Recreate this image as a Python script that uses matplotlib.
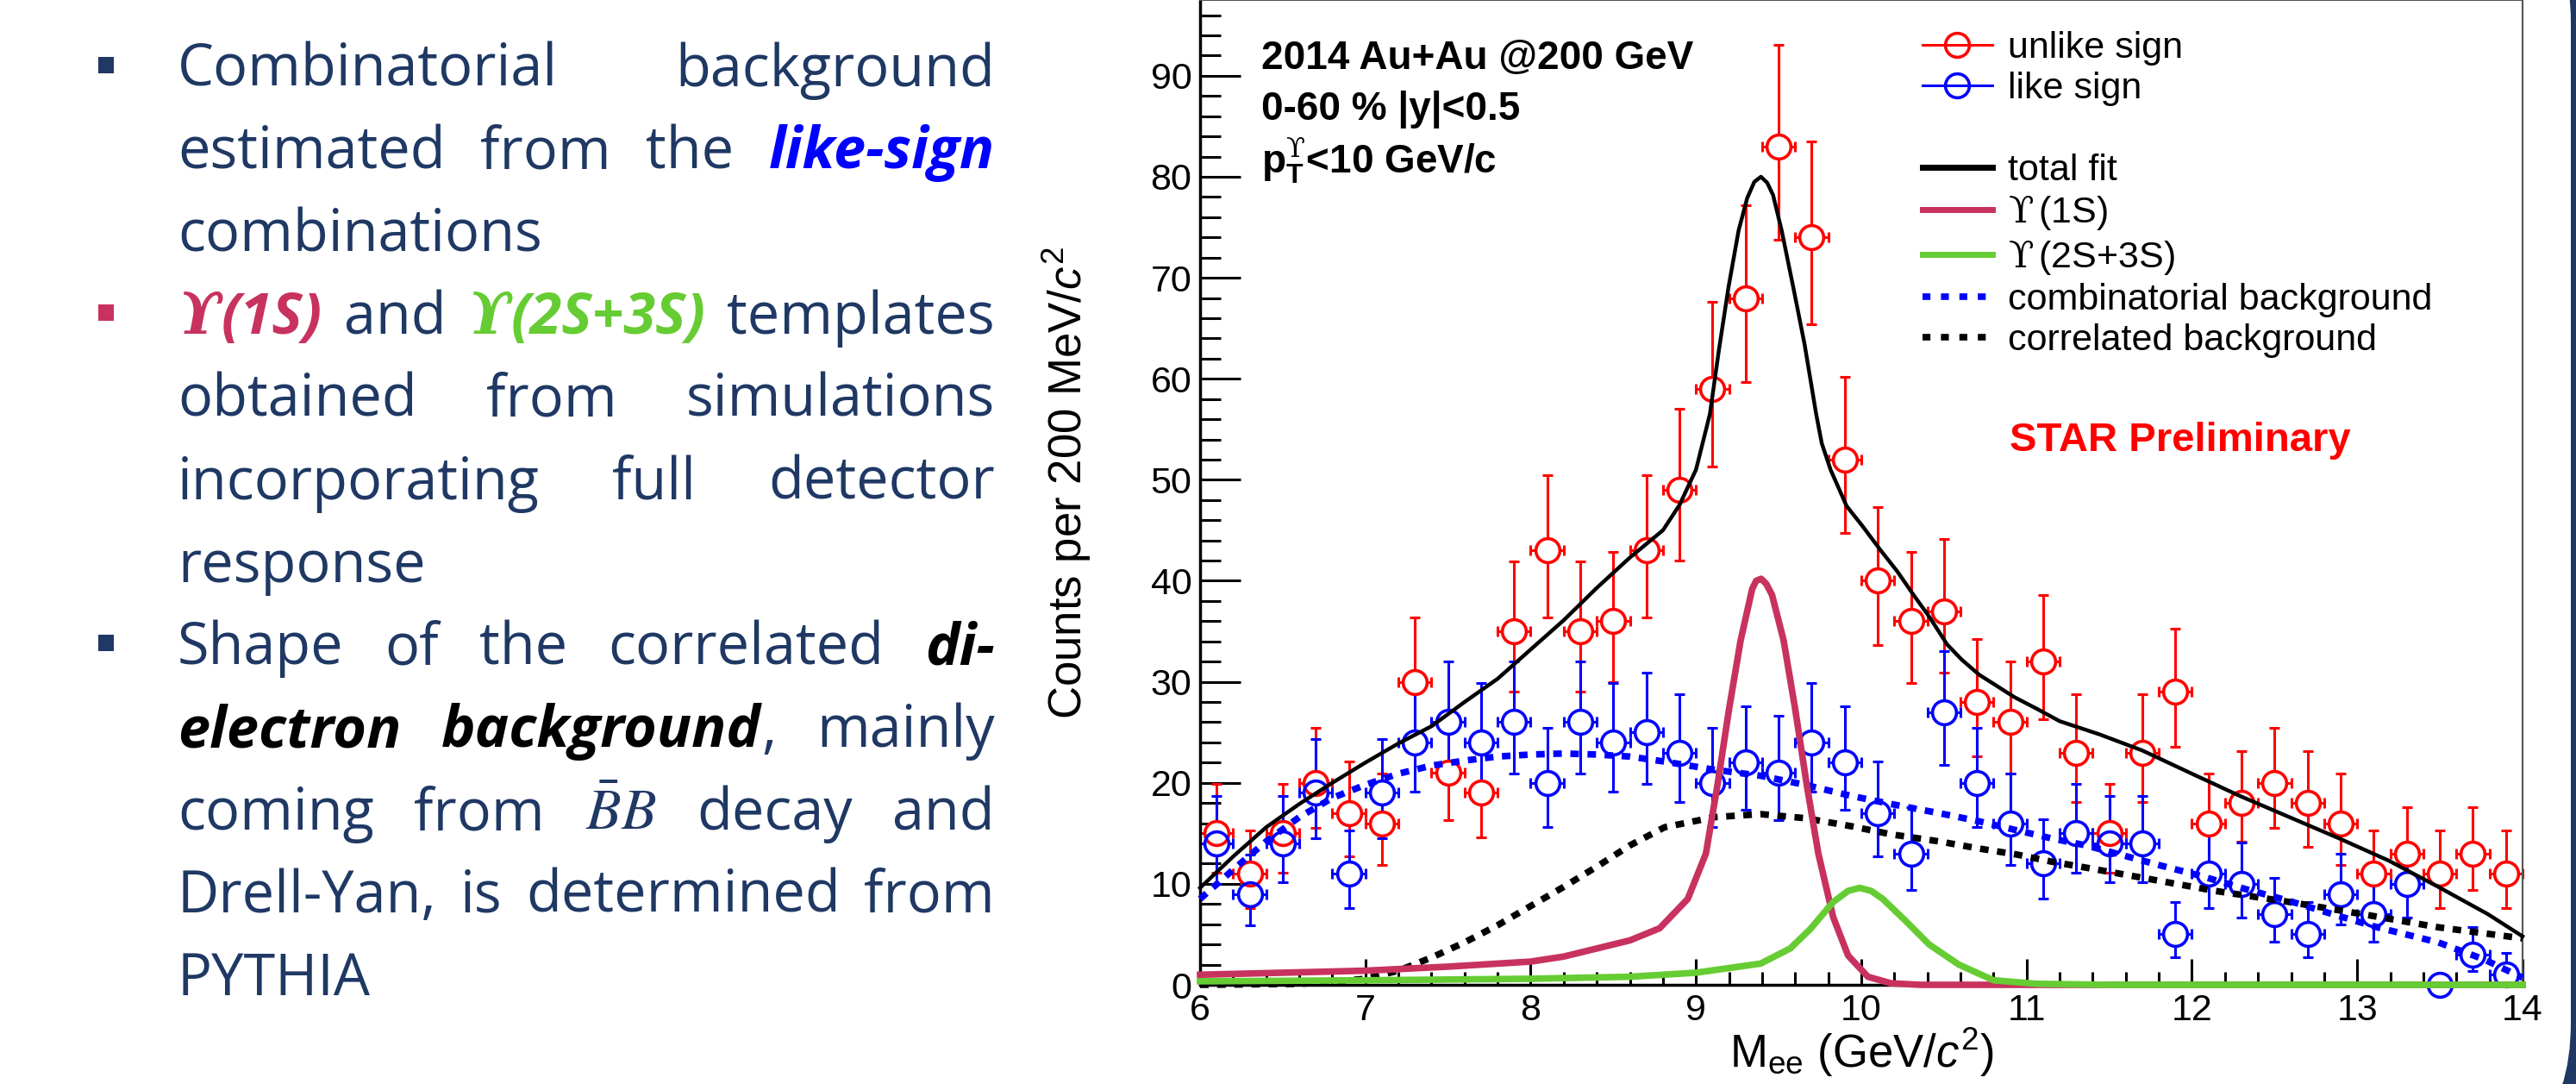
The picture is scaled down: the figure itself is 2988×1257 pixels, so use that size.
import numpy as np
import matplotlib
matplotlib.use('Agg')
import matplotlib.pyplot as plt
from matplotlib.lines import Line2D
from matplotlib.patches import Rectangle, FancyBboxPatch
from matplotlib.transforms import IdentityTransform

plt.rcParams['font.family'] = ['Liberation Sans', 'DejaVu Sans']
plt.rcParams['mathtext.fontset'] = 'custom'
plt.rcParams['mathtext.rm'] = 'DejaVu Serif'
plt.rcParams['mathtext.it'] = 'Liberation Sans:italic'
plt.rcParams['mathtext.bf'] = 'Liberation Sans:bold'
plt.rcParams['mathtext.sf'] = 'Liberation Sans'

# ---- data ----
mass = [6.1, 6.3, 6.5, 6.7, 6.9, 7.1, 7.3, 7.5, 7.7, 7.9,
        8.1, 8.3, 8.5, 8.7, 8.9, 9.1, 9.3, 9.5, 9.7, 9.9,
        10.1, 10.3, 10.5, 10.7, 10.9, 11.1, 11.3, 11.5, 11.7, 11.9,
        12.1, 12.3, 12.5, 12.7, 12.9, 13.1, 13.3, 13.5, 13.7, 13.9]

unlike = [15, 11, 15, 20, 17, 16, 30, 21, 19, 35,
          43, 35, 36, 43, 49, 59, 68, 83, 74, 52,
          40, 36, 37, 28, 26, 32, 23, 15, 23, 29,
          16, 18, 20, 18, 16, 11, 13, 11, 13, 11]
unlike_lo = [11.1, 7.6, 11.1, 15.5, 12.7, 11.9, 24.8, 16.3, 14.6, 29.0,
             36.4, 29.0, 30.0, 36.4, 42.0, 51.3, 59.7, 73.8, 65.4, 44.7,
             33.6, 29.9, 30.9, 22.6, 20.9, 26.3, 18.1, 11.1, 18.1, 23.6,
             11.9, 14.2, 15.5, 13.7, 11.9, 7.6, 9.4, 7.6, 9.4, 7.6]
unlike_hi = [19.9, 15.3, 19.9, 25.4, 22.1, 20.9, 36.4, 26.8, 24.3, 41.9,
             50.5, 41.9, 42.9, 50.5, 57.0, 67.6, 77.2, 93.1, 83.5, 60.2,
             47.3, 42.9, 44.1, 34.2, 32.0, 38.6, 28.8, 19.9, 28.8, 35.3,
             20.9, 23.1, 25.4, 23.1, 20.9, 15.3, 17.6, 15.3, 17.6, 15.3]

like = [14, 9, 14, 19, 11, 19, 24, 26, 24, 26,
        20, 26, 24, 25, 23, 20, 22, 21, 24, 22,
        17, 13, 27, 20, 16, 12, 15, 14, 14, 5,
        11, 10, 7, 5, 9, 7, 10, 0, 3, 1]
like_lo = [10.0, 5.9, 10.2, 14.5, 7.6, 14.5, 19.1, 20.9, 19.1, 20.9,
           15.6, 20.9, 19.1, 19.9, 18.1, 15.6, 17.3, 16.3, 19.1, 17.3,
           12.7, 9.4, 21.8, 15.6, 11.9, 8.5, 11.1, 10.2, 10.2, 2.7,
           7.6, 6.7, 4.3, 2.7, 6.0, 4.3, 6.7, 0.0, 1.4, 0.2]
like_hi = [18.7, 12.9, 18.7, 24.3, 15.3, 24.3, 29.9, 32.0, 29.9, 32.0,
           25.4, 32.0, 29.9, 30.9, 28.8, 25.4, 27.6, 26.6, 29.9, 27.6,
           22.1, 17.6, 33.0, 25.4, 20.9, 16.4, 19.9, 18.7, 18.7, 8.2,
           15.3, 14.1, 10.6, 8.2, 13.0, 10.6, 14.1, 0.0, 5.7, 3.2]

fit_x = [6.0, 6.2, 6.4, 6.6, 6.8, 7.0, 7.2, 7.4, 7.6, 7.8, 8.0, 8.2, 8.4, 8.6,
         8.8, 8.9, 9.0, 9.084, 9.14, 9.197, 9.258, 9.31, 9.353, 9.393, 9.431, 9.466,
         9.518, 9.588, 9.657, 9.727, 9.761, 9.814, 9.911, 10.008, 10.113, 10.219,
         10.316, 10.413, 10.519, 10.607, 10.713, 10.819, 10.924, 11.065, 11.2, 11.44,
         11.7, 12.0, 12.29, 12.59, 12.89, 13.19, 13.49, 13.79, 14.0]
fit_y = [9.6, 12.7, 15.6, 17.9, 20.0, 22.0, 23.9, 25.6, 28.0, 30.3, 33.2, 36.1, 39.3, 42.3,
         45.0, 47.5, 51.0, 56.5, 63.0, 69.1, 74.7, 77.9, 79.5, 80.0, 79.4, 78.2,
         74.7, 69.1, 63.4, 56.5, 53.6, 51.0, 47.4, 45.4, 43.1, 40.9,
         38.6, 36.4, 33.7, 32.2, 30.7, 29.6, 28.5, 27.3, 26.1, 24.8,
         23.2, 20.9, 18.7, 16.6, 14.5, 12.3, 9.7, 7.0, 4.8]

y1s_x = [6.0, 6.5, 7.0, 7.5, 8.0, 8.2, 8.4, 8.6, 8.78, 8.95, 9.06, 9.13, 9.2, 9.27,
         9.34, 9.364, 9.394, 9.425, 9.46, 9.53, 9.6, 9.67, 9.74, 9.83, 9.92, 10.04,
         10.18, 10.36, 14.0]
y1s_y = [1.0, 1.2, 1.4, 1.8, 2.3, 2.8, 3.6, 4.4, 5.6, 8.5, 13.0, 19.8, 27.3, 34.1,
         39.2, 40.0, 40.2, 39.7, 38.6, 34.1, 27.3, 19.8, 13.0, 6.7, 2.9, 0.8,
         0.15, 0.0, 0.0]

y23s_x = [6.0, 7.0, 8.0, 8.6, 9.0, 9.39, 9.57, 9.69, 9.83, 9.92, 9.99, 10.06, 10.13, 10.27,
          10.41, 10.59, 10.8, 11.06, 11.5, 14.0]
y23s_y = [0.35, 0.45, 0.6, 0.8, 1.2, 2.1, 3.6, 5.5, 8.2, 9.3, 9.6, 9.3, 8.5, 6.3,
          4.0, 2.0, 0.45, 0.1, 0.0, 0.0]

comb_x = [6.0, 6.2, 6.4, 6.6, 6.8, 7.0, 7.2, 7.4, 7.6, 7.8, 8.0, 8.2, 8.4, 8.6,
          8.81, 9.11, 9.39, 9.66, 9.94, 10.18, 10.47, 10.71, 10.94, 11.15, 11.36,
          11.52, 11.79, 12.05, 12.32, 12.59, 12.85, 13.12, 13.49, 13.77, 14.0]
comb_y = [8.5, 11.4, 14.2, 16.6, 18.5, 19.8, 20.9, 21.7, 22.2, 22.6, 22.8, 22.9, 22.8, 22.6,
          22.1, 21.3, 20.7, 19.8, 18.7, 17.9, 17.0, 16.2, 15.3, 14.5, 13.8,
          13.1, 11.9, 10.8, 9.5, 8.3, 7.0, 5.7, 4.2, 2.5, 0.7]

corr_x = [6.0, 6.6, 6.8, 7.0, 7.2, 7.4, 7.6, 7.8, 8.0, 8.2, 8.4, 8.6, 8.81, 9.11,
          9.39, 9.66, 9.94, 10.18, 10.47, 10.71, 10.94, 11.15, 11.36, 11.7, 12.14,
          12.59, 13.03, 13.49, 14.0]
corr_y = [0.0, 0.1, 0.3, 0.6, 1.4, 2.7, 4.2, 5.9, 7.8, 9.7, 11.7, 13.8, 15.6, 16.6,
          16.9, 16.5, 15.7, 14.9, 14.2, 13.5, 12.9, 12.2, 11.6, 10.6, 9.3,
          8.2, 7.0, 5.7, 4.6]

legend_labels = ['unlike sign', 'like sign', '', 'total fit',
                 r'$\mathrm{ϒ}\,$(1S)', r'$\mathrm{ϒ}\,$(2S+3S)',
                 'combinatorial background', 'correlated background']
info_lines = ['2014 Au+Au @200 GeV', '0-60 % |y|<0.5',
              r'p$_{\mathbf{T}}^{\mathrm{ϒ}}$<10 GeV/c']

# left-hand slide text: each line is (bullet colour or None, justified?, words)
NAVY = '#1f3864'
CRIMSON = '#c8325f'
GREEN = '#66cc33'
text_lines = [
    (NAVY, True, [[('Combinatorial', 'n')], [('background', 'n')]]),
    (None, True, [[('estimated', 'n')], [('from', 'n')], [('the', 'n')], [('like-sign', 'lb')]]),
    (None, False, [[('combinations', 'n')]]),
    (CRIMSON, True, [[('ϒ', 'u1'), ('(1S)', 'c1')], [('and', 'n')],
                     [('ϒ', 'u2'), ('(2S+3S)', 'c2')], [('templates', 'n')]]),
    (None, True, [[('obtained', 'n')], [('from', 'n')], [('simulations', 'n')]]),
    (None, True, [[('incorporating', 'n')], [('full', 'n')], [('detector', 'n')]]),
    (None, False, [[('response', 'n')]]),
    (NAVY, True, [[('Shape', 'n')], [('of', 'n')], [('the', 'n')], [('correlated', 'n')],
                  [('di-', 'k')]]),
    (None, True, [[('electron', 'k')], [('background', 'k'), (',', 'n')], [('mainly', 'n')]]),
    (None, True, [[('coming', 'n')], [('from', 'n')], [(r'$\bar{B}B$', 'bb')],
                  [('decay', 'n')], [('and', 'n')]]),
    (None, True, [[('Drell-Yan,', 'n')], [('is', 'n')], [('determined', 'n')], [('from', 'n')]]),
    (None, False, [[('PYTHIA', 'n')]]),
]

# ---- figure ----
W, H = 2988, 1257
fig = plt.figure(figsize=(W / 100, H / 100), dpi=100)
fig.patch.set_facecolor('white')

# slide border on the right with rounded inner corner
fig.add_artist(Rectangle((2900, 0), 88, H, transform=IdentityTransform(),
                         facecolor='#1f3864', edgecolor='none', zorder=-2))
fig.add_artist(FancyBboxPatch((2400, -99), 582, 1500, boxstyle='round,pad=0,rounding_size=170',
                              transform=IdentityTransform(), facecolor='white',
                              edgecolor='none', zorder=-1))

ax = fig.add_axes([1392 / W, (H - 1142) / H, (2926 - 1392) / W, 1142 / H])

mass = np.array(mass)
MS = 20


def draw_points(y, lo, hi, color):
    y = np.array(y, dtype=float)
    lo = np.array(lo)
    hi = np.array(hi)
    ok = y > 0
    ax.errorbar(mass[ok], y[ok], xerr=0.1, yerr=[y[ok] - lo[ok], hi[ok] - y[ok]],
                fmt='none', ecolor=color, elinewidth=2.2, capsize=4.3, capthick=2.2,
                zorder=2, clip_on=False)
    ax.plot(mass, y, 'o', ms=MS, mfc='white', mec='none', zorder=3, clip_on=False)
    ax.plot(mass, y, 'o', ms=MS, mfc='none', mec=color, mew=2.6, zorder=4, clip_on=False)


draw_points(unlike, unlike_lo, unlike_hi, 'red')
draw_points(like, like_lo, like_hi, 'blue')

dots = (0, (1.3, 1.3))
ax.plot(corr_x, corr_y, color='black', lw=5.5, ls=dots, zorder=5, clip_on=False)
ax.plot(comb_x, comb_y, color='blue', lw=5.5, ls=dots, zorder=5, clip_on=False)
ax.plot(y1s_x, y1s_y, color=CRIMSON, lw=5.5, zorder=5, clip_on=False)
ax.plot(y23s_x, y23s_y, color=GREEN, lw=5.5, zorder=5, clip_on=False)
ax.plot(fit_x, fit_y, color='black', lw=3.2, zorder=6, clip_on=False)

ax.set_xlim(6, 14)
ax.set_ylim(0, 97.5)
ax.set_xticks(np.arange(6, 15, 1))
ax.set_xticks(np.arange(6, 14.01, 0.2), minor=True)
ax.set_yticks(np.arange(0, 91, 10))
ax.set_yticks(np.arange(0, 97, 2), minor=True)
ax.tick_params(which='both', direction='in', top=False, right=False,
               labelsize=31, pad=7, width=2.2, colors='black')
ax.tick_params(axis='y', which='major', length=34)
ax.tick_params(axis='y', which='minor', length=17)
ax.tick_params(axis='x', which='major', length=21.5)
ax.tick_params(axis='x', which='minor', length=11)
for s in ['left', 'bottom']:
    ax.spines[s].set_linewidth(2.5)
for s in ['top', 'right']:
    ax.spines[s].set_linewidth(1.5)
    ax.spines[s].set_color('#555555')

fig.text(1237 / W, 1 - 560 / H, r'Counts per 200 MeV/$c^{\mathsf{2}}$', rotation=90,
         ha='center', va='center', fontsize=38)
fig.text(2159 / W, 1 - 1238 / H, r'M$_{\mathsf{ee}}$ (GeV/$c^{\mathsf{2}}$)',
         ha='center', va='baseline', fontsize=38)

for txt, yb in zip(info_lines, [0.9303, 0.8783, 0.824]):
    ax.text(0.0463, yb, txt, transform=ax.transAxes, fontsize=33, fontweight='bold',
            va='baseline', ha='left')
ax.text(0.612, 0.542, 'STAR Preliminary', transform=ax.transAxes, fontsize=34,
        fontweight='bold', color='red', va='baseline', ha='left')

handles = [
    Line2D([], [], color='red', lw=2.2, marker='o', ms=MS, mfc='none', mew=2.6),
    Line2D([], [], color='blue', lw=2.2, marker='o', ms=MS, mfc='none', mew=2.6),
    Line2D([], [], ls='none'),
    Line2D([], [], color='black', lw=5),
    Line2D([], [], color=CRIMSON, lw=5),
    Line2D([], [], color=GREEN, lw=5),
    Line2D([], [], color='blue', lw=5.5, ls=(0, (1.2, 1.6))),
    Line2D([], [], color='black', lw=5.5, ls=(0, (1.2, 1.6))),
]
ax.legend(handles, legend_labels, loc='upper left', bbox_to_anchor=(2230 / W, 1 - 36 / H),
          bbox_transform=fig.transFigure, frameon=False, fontsize=31, handlelength=1.88,
          handletextpad=0.42, labelspacing=0.17, borderpad=0, borderaxespad=0)

# ---- left-hand bullet text, justified ----
FS = 48
styles = {
    'n': dict(fontsize=FS, family='Open Sans', color=NAVY),
    'lb': dict(fontsize=FS, family='Open Sans', color='#0000ff', weight='bold', style='italic'),
    'u1': dict(fontsize=FS, family='DejaVu Serif', color=CRIMSON, weight='bold', style='italic'),
    'c1': dict(fontsize=FS, family='Open Sans', color=CRIMSON, weight='bold', style='italic'),
    'u2': dict(fontsize=FS, family='DejaVu Serif', color=GREEN, weight='bold', style='italic'),
    'c2': dict(fontsize=FS, family='Open Sans', color=GREEN, weight='bold', style='italic'),
    'k': dict(fontsize=FS, family='Open Sans', color='black', weight='bold', style='italic'),
    'bb': dict(fontsize=FS, color=NAVY, math_fontfamily='stix'),
}
text_left, text_right = 206, 1154
renderer = fig.canvas.get_renderer()
for i, (bullet, justify, words) in enumerate(text_lines):
    yb = 99.5 + i * 95.85
    if bullet:
        fig.add_artist(Rectangle((114 / W, 1 - (yb - 15) / H), 18 / W, 19 / H,
                                 transform=fig.transFigure, facecolor=bullet, edgecolor='none'))
    placed = []
    for word in words:
        parts = []
        for s, st in word:
            t = fig.text(0, 0, s, ha='left', va='baseline', **styles[st])
            parts.append((t, t.get_window_extent(renderer).width))
        placed.append(parts)
    widths = [sum(w for _, w in p) for p in placed]
    if justify and len(placed) > 1:
        gap = (text_right - text_left - sum(widths)) / (len(placed) - 1)
    else:
        gap = 0.26 * FS * 100 / 72
    x = text_left
    for parts in placed:
        for t, w in parts:
            t.set_position((x / W, 1 - yb / H))
            x += w
        x += gap

fig.savefig('out.png', dpi=100)
